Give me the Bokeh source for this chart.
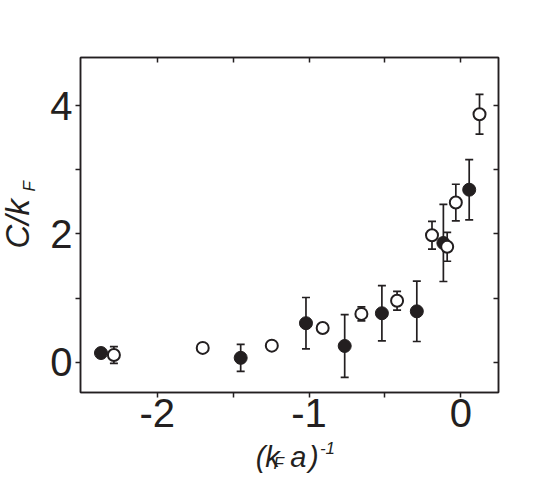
import math
from bokeh.plotting import figure
from bokeh.layouts import row, column
from bokeh.models import (ColumnDataSource, Whisker, TeeHead, LinearAxis,
                          FixedTicker, Range1d)
from bokeh.core.properties import value
from bokeh.embed import file_html
from bokeh.resources import INLINE

# ---- data ----
filled_x = [-2.37, -1.45, -1.02, -0.765, -0.52, -0.29, -0.115, 0.055]
filled_y = [0.145, 0.07, 0.61, 0.255, 0.765, 0.795, 1.86, 2.69]
filled_err = [0.0, 0.21, 0.40, 0.49, 0.43, 0.47, 0.60, 0.47]

open_x = [-2.285, -1.70, -1.245, -0.91, -0.655, -0.42, -0.19, -0.09, -0.033, 0.123]
open_y = [0.115, 0.225, 0.26, 0.535, 0.755, 0.96, 1.98, 1.80, 2.49, 3.865]
open_err = [0.13, 0.0, 0.03, 0.0, 0.11, 0.145, 0.215, 0.225, 0.285, 0.31]

x_ticks = [-2, -1, 0]
x_tick_labels = ["-2", "-1", "0"]
x_minor = [-1.5, -0.5]
y_ticks = [0, 2, 4]
y_tick_labels = ["0", "2", "4"]
y_minor = [1, 3]

# axis titles, split so that sub/superscripts can be drawn
y_title_parts = ["C/k", "F"]
x_title_parts = ["(k", "F", "a", ")", "-1"]

INK = "#231f20"
FONT = "Liberation Sans"

LEFT_STRIP = 44

# ---------------- main plot ----------------
p = figure(width=494, height=439, output_backend="svg", toolbar_location=None,
           x_range=Range1d(-2.505, 0.248), y_range=Range1d(-0.47, 4.75),
           min_border_left=36, min_border_right=40, min_border_top=57,
           min_border_bottom=47)
p.xgrid.visible = False
p.ygrid.visible = False
p.outline_line_color = INK
p.outline_line_width = 1.5
p.outline_line_alpha = 1.0

def style_axis(ax, ticks, labels, minor):
    ax.ticker = FixedTicker(ticks=ticks, minor_ticks=minor)
    ax.major_label_overrides = {t: s for t, s in zip(ticks, labels)}
    ax.axis_line_color = INK
    ax.axis_line_width = 1.5
    ax.major_tick_line_color = INK
    ax.minor_tick_line_color = INK
    ax.major_tick_line_width = 1.5
    ax.minor_tick_line_width = 1.5
    ax.major_tick_out = 5
    ax.major_tick_in = 0
    ax.minor_tick_out = 5
    ax.minor_tick_in = 0
    ax.major_label_text_font = FONT
    ax.major_label_text_font_size = "40px"
    ax.major_label_text_color = INK

style_axis(p.xaxis[0], x_ticks, x_tick_labels, x_minor)
style_axis(p.yaxis[0], y_ticks, y_tick_labels, y_minor)
p.xaxis[0].major_label_standoff = 1
p.yaxis[0].major_label_standoff = 3

def inner_axis(ticks, side):
    ax = LinearAxis(ticker=FixedTicker(ticks=ticks, minor_ticks=[]))
    ax.axis_line_color = INK
    ax.axis_line_width = 1.5
    ax.major_tick_line_color = INK
    ax.major_tick_line_width = 1.5
    ax.major_tick_in = 5
    ax.major_tick_out = 0
    ax.minor_tick_line_color = None
    ax.major_label_overrides = {t: "" for t in ticks}
    ax.major_label_standoff = 0
    p.add_layout(ax, side)

inner_axis(x_ticks + x_minor, "above")
inner_axis(y_ticks + y_minor, "right")

src_f = ColumnDataSource(dict(x=filled_x, y=filled_y,
                              lo=[a - b for a, b in zip(filled_y, filled_err)],
                              hi=[a + b for a, b in zip(filled_y, filled_err)]))
src_o = ColumnDataSource(dict(x=open_x, y=open_y,
                              lo=[a - b for a, b in zip(open_y, open_err)],
                              hi=[a + b for a, b in zip(open_y, open_err)]))

for src in (src_f, src_o):
    w = Whisker(source=src, base="x", lower="lo", upper="hi", dimension="height",
                line_color=INK, line_width=1.7, level="underlay",
                upper_head=TeeHead(size=8, line_color=INK, line_width=1.7),
                lower_head=TeeHead(size=8, line_color=INK, line_width=1.7))
    p.add_layout(w)

p.scatter("x", "y", source=src_f, size=13, marker="circle",
          fill_color=INK, line_color=INK, line_width=1)
p.scatter("x", "y", source=src_o, size=12, marker="circle",
          fill_color="white", line_color=INK, line_width=2)

# ---------------- title strips (pixel-like coordinate spaces) ----------------
def text_panel(w, h):
    f = figure(width=w, height=h, output_backend="svg", toolbar_location=None,
               x_axis_type=None, y_axis_type=None,
               x_range=Range1d(0, w), y_range=Range1d(h, 0),
               min_border=0)
    f.outline_line_color = None
    return f

# y title strip (left)
ylab = text_panel(LEFT_STRIP, 483)
ylab.text(x=[17, 29], y=[248, 191], text=y_title_parts,
          angle=math.pi / 2, text_font=value(FONT), text_font_style="italic",
          text_font_size=["33px", "17px"], text_color=INK,
          text_align="left", text_baseline="middle")

# x title strip (bottom)
xlab = text_panel(494, 44)
xlab.text(x=[207, 228, 248, 270, 283], y=[17, 23.5, 17, 17, 8],
          text=x_title_parts, text_font=value(FONT), text_font_style="italic",
          text_font_size=["29px", "17px", "29px", "29px", "17px"],
          text_color=INK, text_align="left", text_baseline="middle")

layout = row(ylab, column(p, xlab, spacing=0), spacing=0)

open("out.html", "w").write(file_html(layout, INLINE))
